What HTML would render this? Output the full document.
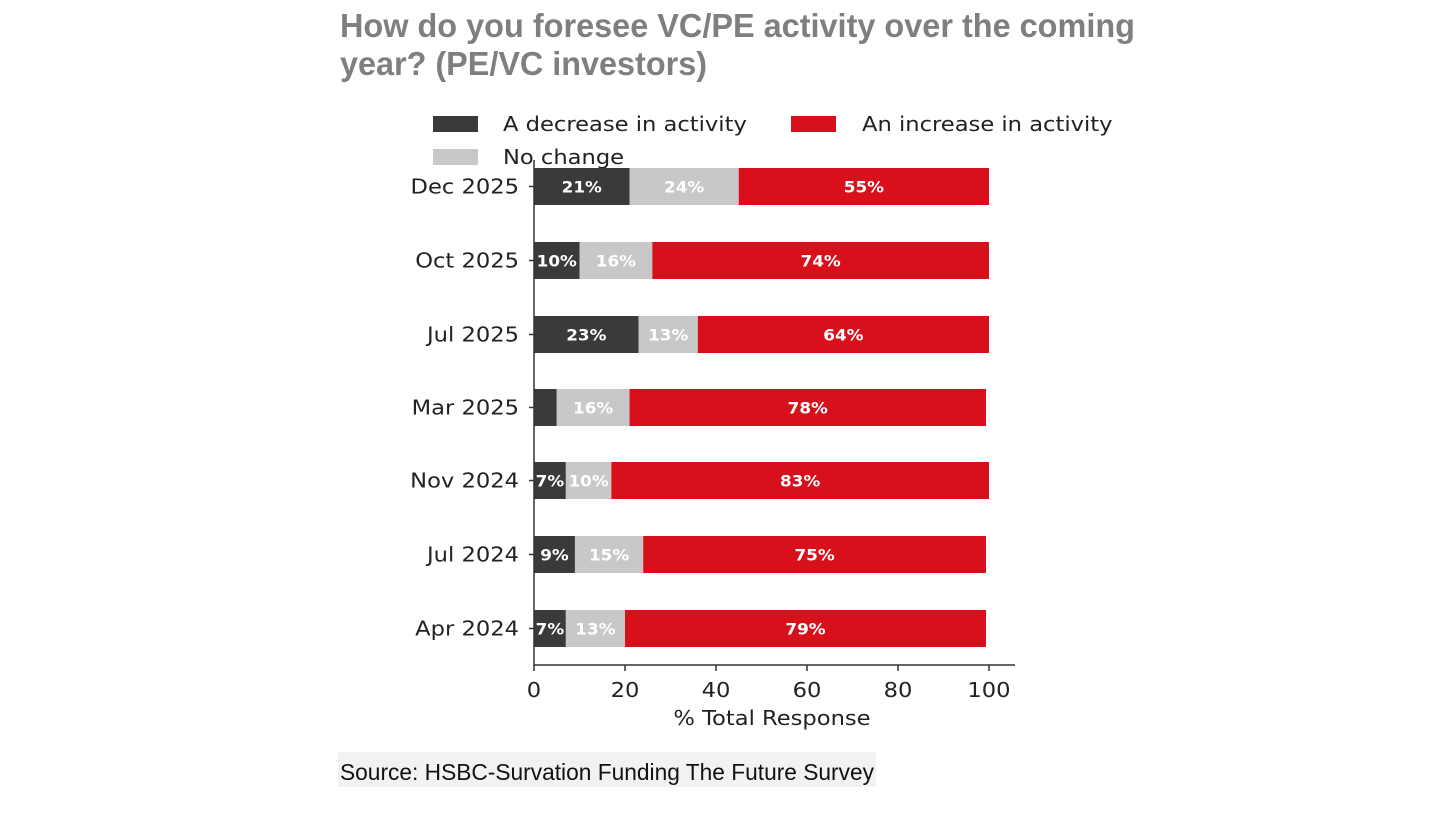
<!DOCTYPE html>
<html><head><meta charset="utf-8"><style>
html,body{margin:0;padding:0;background:#fff;width:1440px;height:819px;overflow:hidden}
svg{display:block}
</style></head><body>
<svg width="1440" height="819" xmlns="http://www.w3.org/2000/svg">
<g font-family="Liberation Sans, Arial, sans-serif" font-weight="bold" fill="#7f7f7f" font-size="33">
<text x="340" y="37" textLength="795" lengthAdjust="spacingAndGlyphs">How do you foresee VC/PE activity over the coming</text>
<text x="340" y="75" textLength="367" lengthAdjust="spacingAndGlyphs">year? (PE/VC investors)</text>
</g>
<g font-family="DejaVu Sans, sans-serif" font-size="20" fill="#222">
<rect x="433" y="116" width="45" height="16" fill="#3a3a3a"/>
<text class="s" x="503" y="131">A decrease in activity</text>
<rect x="791" y="116" width="45" height="16" fill="#d7101b"/>
<text class="s" x="862" y="131">An increase in activity</text>
<rect x="433" y="149" width="45" height="16" fill="#c8c8c8"/>
<text class="s" x="503" y="164">No change</text>
</g>
<g id="bars" font-family="DejaVu Sans, sans-serif" font-weight="bold" font-size="16" fill="#fff" text-anchor="middle"></g>
<line x1="534" y1="160" x2="534" y2="665" stroke="#333" stroke-width="1.5"/>
<line x1="534" y1="665" x2="1015" y2="665" stroke="#333" stroke-width="1.5"/>
<g id="ticks" font-family="DejaVu Sans, sans-serif" font-size="20" fill="#222"></g>
<text class="s" x="772" y="725" font-family="DejaVu Sans, sans-serif" font-size="20" fill="#222" text-anchor="middle">% Total Response</text>
<rect x="338" y="752" width="538" height="35" fill="#f2f2f2"/>
<text x="340" y="780" font-family="Liberation Sans, Arial, sans-serif" font-size="23" fill="#111" textLength="534" lengthAdjust="spacingAndGlyphs">Source: HSBC-Survation Funding The Future Survey</text>
</svg>
<script>
var ns="http://www.w3.org/2000/svg";
var rows=[["Dec 2025",168,21,24,55],["Oct 2025",242,10,16,74],["Jul 2025",316,23,13,64],["Mar 2025",389,5,16,78],["Nov 2024",462,7,10,83],["Jul 2024",536,9,15,75],["Apr 2024",610,7,13,79]];
var ends={"Mar 2025":986,"Jul 2024":986,"Apr 2024":986};
var g=document.getElementById("bars"),t=document.getElementById("ticks");
function el(p,n,a,txt){var e=document.createElementNS(ns,n);for(var k in a)e.setAttribute(k,a[k]);if(txt)e.textContent=txt;p.appendChild(e);return e;}
var S=4.55,X0=534;
rows.forEach(function(r){
 var y=r[1],h=37,a=X0+S*r[2],b=X0+S*(r[2]+r[3]),c=ends[r[0]]||989;
 el(g,"rect",{x:X0,y:y,width:a-X0,height:h,fill:"#3a3a3a"});
 el(g,"rect",{x:a,y:y,width:b-a,height:h,fill:"#c8c8c8"});
 el(g,"rect",{x:b,y:y,width:c-b,height:h,fill:"#d7101b"});
 var ty=y+h/2+6;
 if(r[2]>5)el(g,"text",{x:(X0+a)/2,y:ty,"class":"b"},r[2]+"%");
 el(g,"text",{x:(a+b)/2,y:ty,"class":"b"},r[3]+"%");
 el(g,"text",{x:(b+c)/2,y:ty,"class":"b"},r[4]+"%");
 el(t,"line",{x1:529,x2:534,y1:y+h/2,y2:y+h/2,stroke:"#333","stroke-width":1.5});
 el(t,"text",{x:519,y:y+h/2+7,"text-anchor":"end","class":"s"},r[0]);
});
for(var v=0;v<=100;v+=20){var x=X0+S*v;
 el(t,"line",{x1:x,x2:x,y1:665,y2:671,stroke:"#333","stroke-width":1.5});
 el(t,"text",{x:x,y:697,"text-anchor":"middle","class":"s"},""+v);}
document.querySelectorAll("text.s").forEach(function(e){var L=e.getComputedTextLength();e.setAttribute("textLength",L*1.13);e.setAttribute("lengthAdjust","spacingAndGlyphs");});
document.querySelectorAll("text.b").forEach(function(e){var L=e.getComputedTextLength();e.setAttribute("textLength",L*1.05);e.setAttribute("lengthAdjust","spacingAndGlyphs");});
</script>
</body></html>
